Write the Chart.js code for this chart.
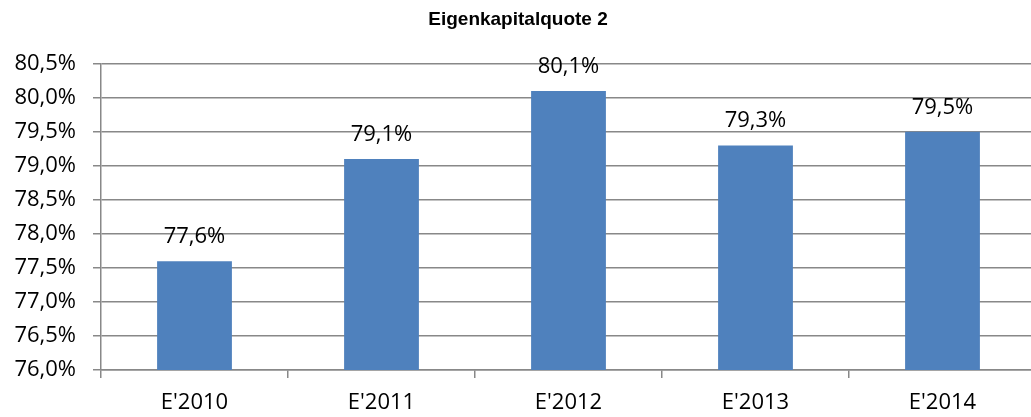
<!DOCTYPE html>
<html>
<head>
<meta charset="utf-8">
<title>Eigenkapitalquote 2</title>
<script src="https://cdn.jsdelivr.net/npm/chart.js@4/dist/chart.umd.min.js"></script>
<style>
    html, body { margin: 0; padding: 0; background: #fff; overflow: hidden; }
    #wrap { width: 1036px; height: 417px; }
</style>
</head>
<body>
<div id="wrap"><canvas id="equity-chart" width="1036" height="417"></canvas></div>
<script>
// Eigenkapitalquote je Jahr (in %)
const years = ["E'2010", "E'2011", "E'2012", "E'2013", "E'2014"];
const equityRatio = [77.6, 79.1, 80.1, 79.3, 79.5];
const yMin = 76.0;
const yMax = 80.5;
const yStep = 0.5;

const labelFont = "'Open Sans', sans-serif";
const gridColor = '#888888';

const fmtPct = v => v.toFixed(1).replace('.', ',') + '%';

// Wert über jedem Balken
const valueLabels = {
    id: 'valueLabels',
    afterDatasetsDraw(chart) {
        const ctx = chart.ctx;
        const meta = chart.getDatasetMeta(0);
        ctx.save();
        ctx.font = `22px ${labelFont}`;
        ctx.fillStyle = '#000';
        ctx.textAlign = 'center';
        ctx.textBaseline = 'alphabetic';
        meta.data.forEach((bar, i) => {
            ctx.fillText(fmtPct(equityRatio[i]), bar.x, bar.y - 18);
        });
        ctx.restore();
    }
};

new Chart(document.getElementById('equity-chart'), {
    type: 'bar',
    data: {
        labels: years,
        datasets: [{
            data: equityRatio,
            backgroundColor: '#4f81bd',
            borderWidth: 0,
            categoryPercentage: 1.0,
            barPercentage: 0.4
        }]
    },
    options: {
        responsive: false,
        animation: false,
        layout: { padding: { left: 0, right: 0, top: 0, bottom: 0 } },
        plugins: {
            legend: { display: false },
            tooltip: { enabled: false },
            title: {
                display: true,
                text: 'Eigenkapitalquote 2',
                color: '#000',
                font: { family: "'Liberation Sans', Arial, sans-serif", size: 19, weight: 'bold', lineHeight: 1.2 },
                padding: { top: 8, bottom: 33 }
            }
        },
        scales: {
            x: {
                grid: {
                    offset: true,
                    drawOnChartArea: false,
                    tickLength: 8,
                    color: gridColor,
                    lineWidth: 1.5
                },
                border: { color: gridColor, width: 1.5 },
                ticks: {
                    color: '#000',
                    padding: 12,
                    font: { family: labelFont, size: 22 }
                },
                afterFit(scale) { scale.height = 47; }
            },
            y: {
                min: yMin,
                max: yMax,
                grid: {
                    tickLength: 8,
                    color: gridColor,
                    lineWidth: 1.5
                },
                border: { color: gridColor, width: 1.5 },
                ticks: {
                    stepSize: yStep,
                    color: '#000',
                    padding: 17,
                    font: { family: labelFont, size: 22 },
                    callback: v => fmtPct(v)
                },
                afterFit(scale) { scale.width = 101; }
            }
        }
    },
    plugins: [valueLabels]
});
</script>
</body>
</html>
